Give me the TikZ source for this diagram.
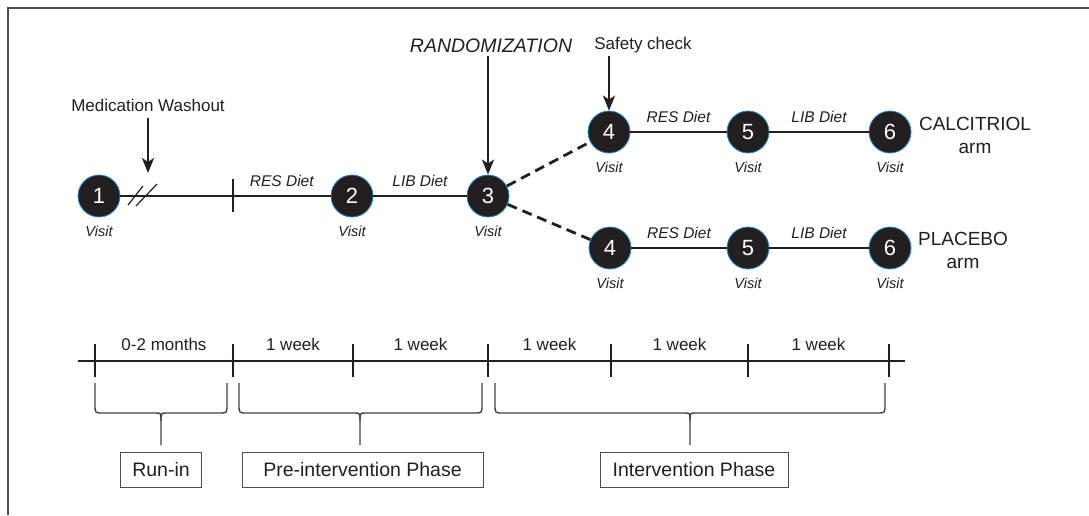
\documentclass[tikz,border=0pt]{standalone}
\usepackage{fontspec}
\setmainfont{Liberation Sans}
\usetikzlibrary{arrows.meta}
\definecolor{ink}{RGB}{35,31,32}
\definecolor{ring}{RGB}{40,140,210}
% brace under the time axis: left end, right end, tip
\newcommand{\phasebrace}[3]{%
  \draw[brace] (#1,383) -- (#1,405) .. controls (#1,413) .. (#1+8,413) -- (#3-5,413) .. controls (#3,413) .. (#3,421) -- (#3,445);
  \draw[brace] (#2,383) -- (#2,405) .. controls (#2,413) .. (#2-8,413) -- (#3+5,413) .. controls (#3,413) .. (#3,421);
}
\begin{document}
\begin{tikzpicture}[x=1pt,y=-1pt,
  visit/.style={circle,fill=ink,draw=ring,line width=0.8pt,minimum size=42pt,inner sep=0pt,
    text=white,font=\fontsize{22}{22}\selectfont},
  vlabel/.style={text=ink,font=\itshape\fontsize{14.5}{16}\selectfont},
  diet/.style={text=ink,yshift=15pt,font=\itshape\fontsize{15.5}{17}\selectfont},
  note/.style={text=ink,font=\fontsize{17}{20}\selectfont},
  arm/.style={text=ink,align=center,font=\fontsize{19}{23}\selectfont},
  week/.style={text=ink,yshift=17pt,font=\fontsize{17}{20}\selectfont},
  road/.style={draw=ink,line width=2.8pt},
  dashroad/.style={road,dash pattern=on 10pt off 6pt},
  arr/.style={draw=ink,line width=2.6pt,-{Stealth[length=15pt,width=12pt,inset=4pt]}},
  axis/.style={draw=ink,line width=1.2pt},
  brace/.style={draw=ink!85,line width=1.4pt},
  box/.style={draw=ink!80,line width=1pt,minimum height=35pt,text=ink,font=\fontsize{19.5}{20}\selectfont}]
\useasboundingbox (0,0) rectangle (1089,515);
\draw[line width=2pt,black!70] (8,515) -- (8,8) -- (1089,8);

% visits
\foreach \n/\num/\x/\y in {v1/1/99/196, v2/2/352/196, v3/3/488/196,
    a4/4/609/132, a5/5/748/132, a6/6/890/132,
    b4/4/610/248, b5/5/748/248, b6/6/890/248}
{
  \node[visit] (\n) at (\x,\y) {\num};
  \node[vlabel] (\n-vis) at (\x,\y+35) {Visit};
}

% run-in and pre-intervention
\coordinate (wash) at (142,196);
\coordinate (run) at (233,196);
\draw[road] (v1) -- (v2);
\draw[axis] ([shift={(-14,9)}]wash) -- ++(15,-19);
\draw[axis] ([shift={(-6,10)}]wash) -- ++(21,-22);
\draw[road] ([yshift=17pt]run) -- ([yshift=-16pt]run);
\path (run) -- node[diet] (d1) {RES Diet} (v2);
\draw[road] (v2) -- node[diet] (d2) {LIB Diet} (v3);

% the two arms
\draw[dashroad] (v3) -- (a4);
\draw[dashroad] (v3) -- (b4);
\draw[road] (a4) -- node[diet] (d3) {RES Diet} (a5);
\draw[road] (a5) -- node[diet] (d4) {LIB Diet} (a6);
\draw[road] (b4) -- node[diet] (d5) {RES Diet} (b5);
\draw[road] (b5) -- node[diet] (d6) {LIB Diet} (b6);
\node[arm] (calc) at (975,135) {CALCITRIOL\\arm};
\node[arm] (plac) at (963,250) {PLACEBO\\arm};

% events
\node[note] (washtxt) at (148,105) {Medication Washout};
\draw[arr,shorten <=3pt,shorten >=23pt] (washtxt.south) -- (washtxt.south |- wash);
\node[text=ink,font=\itshape\fontsize{19.5}{22}\selectfont] (rand) at (491,46) {RANDOMIZATION};
\draw[arr] (rand.south -| v3.north) -- (v3.north);
\node[note] (safe) at (643,45) {Safety check};
\draw[arr] (safe.south -| a4.north) -- (a4.north);

% time axis
\coordinate (tl) at (78,361);
\coordinate (tr) at (905,361);
\draw[axis] (tl) -- (tr);
\foreach \n/\x in {0/95,1/233,2/353,3/488,4/611,5/748,6/889}
{
  \coordinate (t\n) at (\x,361);
  \draw[axis] ([yshift=17pt]t\n) -- ([yshift=-16pt]t\n);
}
\foreach \a/\b/\txt [count=\i] in {0/1/0-2 months, 1/2/1 week, 2/3/1 week,
    3/4/1 week, 4/5/1 week, 5/6/1 week}
  \path (t\a) -- node[week] (w\i) {\txt} (t\b);

% phases
\phasebrace{95}{227}{161}
\phasebrace{239}{482}{360}
\phasebrace{495}{885}{690}
\node[box,minimum width=81pt] (runin) at (161,470) {Run-in};
\node[box,minimum width=241pt] (pre) at (362.5,470) {Pre-intervention Phase};
\node[box,minimum width=188pt] (inter) at (694,470) {Intervention Phase};
\end{tikzpicture}
\end{document}
